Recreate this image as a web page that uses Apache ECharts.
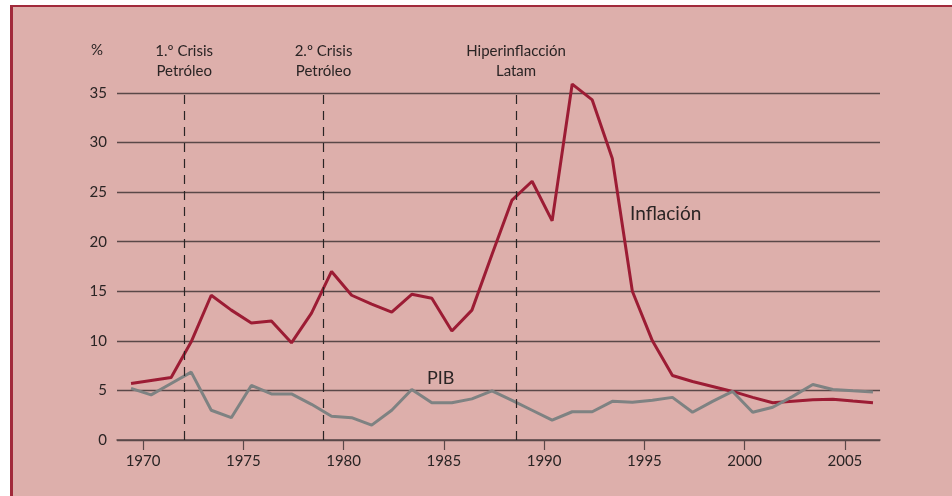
<!DOCTYPE html>
<html>
<head>
<meta charset="utf-8">
<script src="https://cdn.jsdelivr.net/npm/echarts@6/dist/echarts.min.js"></script>
<style>
  html, body { margin: 0; padding: 0; background: #ffffff; }
  #frame {
    position: absolute; left: 10px; top: 5px; right: 0; bottom: 0;
    background: #ddafab;
    border-top: 2px solid #a12a3b;
    border-left: 3px solid #a12a3b;
  }
  #chart { position: absolute; left: 0; top: 0; width: 952px; height: 496px; }
</style>
</head>
<body>
<div id="frame"></div>
<div id="chart"></div>
<script>
// years 1969-2006, values in %
const years = []
for (let y = 1969; y <= 2006; y += 1) years.push(y)

const inflacion = [5.7, 6.0, 6.3, 9.9, 14.6, 13.1, 11.8, 12.0, 9.8, 12.8,
  17.0, 14.6, 13.7, 12.9, 14.7, 14.3, 11.0, 13.1, 18.7, 24.2,
  26.1, 22.1, 35.9, 34.3, 28.4, 15.0, 10.0, 6.5, 5.9, 5.4,
  4.9, 4.3, 3.75, 3.9, 4.05, 4.12, 3.93, 3.75]

const pib = [5.2, 4.55, 5.7, 6.85, 3.0, 2.25, 5.5, 4.65, 4.65, 3.6,
  2.4, 2.25, 1.5, 3.0, 5.1, 3.75, 3.75, 4.15, 4.95, 4.0,
  3.0, 2.0, 2.85, 2.85, 3.9, 3.8, 4.0, 4.3, 2.8, 3.9,
  4.9, 2.8, 3.3, 4.4, 5.6, 5.1, 4.97, 4.85]

const tickYears = [1970, 1975, 1980, 1985, 1990, 1995, 2000, 2005]

// vertical event markers
const eventYears = [1972.05, 1979.0, 1988.6]
const eventLabels = ['1.º Crisis\nPetróleo', '2.º Crisis\nPetróleo', 'Hiperinflacción\nLatam']

const FONT = 'Lato, "Liberation Sans", sans-serif'
const TEXT = '#2a2424'
const GRID = '#5a4848'

// yearly values sit a bit after the year tick
const toPoints = (vals) => years.map((y, i) => [y + 0.4, vals[i]])

const chart = echarts.init(document.getElementById('chart'))
chart.setOption({
  animation: false,
  grid: { left: 117, right: 72, top: 93, bottom: 56 },
  xAxis: {
    type: 'value',
    min: 1968.7,
    max: 2006.75,
    axisLine: { lineStyle: { color: GRID, width: 1.5 } },
    axisTick: { customValues: tickYears, length: 10, lineStyle: { color: GRID, width: 1.2 } },
    axisLabel: {
      customValues: tickYears,
      formatter: (v) => String(v),
      margin: 14,
      fontSize: 15,
      fontFamily: FONT,
      color: TEXT,
    },
    splitLine: { show: false },
  },
  yAxis: {
    type: 'value',
    min: 0,
    max: 35,
    interval: 5,
    axisLine: { show: false },
    axisTick: { show: false },
    axisLabel: { margin: 10, fontSize: 15, fontFamily: FONT, color: TEXT },
    splitLine: { lineStyle: { color: GRID, width: 1.3 } },
  },
  graphic: [
    { type: 'text', x: 97, y: 50, style: { text: '%', fontSize: 15, fontFamily: FONT, fill: TEXT, align: 'center', verticalAlign: 'middle' } },
    { type: 'text', x: 630, y: 214, style: { text: 'Inflación', fontSize: 19, fontFamily: FONT, fill: TEXT, verticalAlign: 'middle' } },
    { type: 'text', x: 427, y: 378, style: { text: 'PIB', fontSize: 18, fontFamily: FONT, fill: TEXT, verticalAlign: 'middle' } },
  ],
  series: [
    {
      name: 'Inflación',
      type: 'line',
      clip: false,
      data: toPoints(inflacion),
      symbol: 'none',
      lineStyle: { color: '#9c1c34', width: 3 },
      markLine: {
        silent: true,
        symbol: 'none',
        lineStyle: { type: [9, 7], color: '#2a2424', width: 1.2 },
        label: {
          position: 'end',
          distance: 12,
          fontSize: 15,
          lineHeight: 20,
          fontFamily: FONT,
          color: TEXT,
        },
        data: eventYears.map((x, i) => ({ xAxis: x, label: { formatter: eventLabels[i] } })),
      },
    },
    {
      name: 'PIB',
      type: 'line',
      data: toPoints(pib),
      symbol: 'none',
      lineStyle: { color: '#7e8282', width: 3 },
    },
  ],
})
</script>
</body>
</html>
